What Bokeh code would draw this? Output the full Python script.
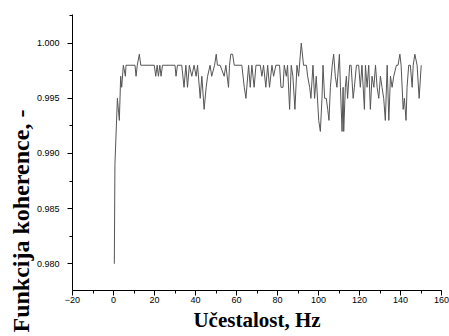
from bokeh.plotting import figure
from bokeh.models import Range1d, SingleIntervalTicker, PrintfTickFormatter, Title
from bokeh.embed import file_html
from bokeh.resources import INLINE

freq = [0.4, 0.7, 1.9, 2.85, 3.5, 4.0, 4.8, 5.8, 6.1, 10.5, 11.0, 11.6, 12.6, 13.3,
        19.9, 20.6, 21.3, 21.9, 22.6, 23.2, 23.9, 30.0, 30.5, 31.2, 33.3, 34.4,
        35.3, 36.1, 37.0, 38.2, 39.3, 40.3, 41.0, 42.3, 43.1, 44.2, 45.2, 45.9,
        47.1, 47.9, 49.3, 50.1, 50.7, 52.0, 54.0, 54.8, 56.1, 56.6, 57.2, 58.1,
        58.9, 62.6, 63.8, 64.6, 65.9, 66.7, 67.5, 68.6, 69.5, 71.6, 72.4, 73.2,
        74.3, 75.2, 76.1, 77.3, 78.1, 79.2, 81.0, 81.7, 82.7, 83.3, 84.3, 84.9,
        85.9, 86.7, 87.5, 88.5, 89.5, 90.3, 91.6, 92.7, 94.1, 94.7, 95.7, 96.3,
        97.3, 98.1, 98.9, 100.1, 100.9, 101.7, 102.2, 103.0, 103.8, 104.5, 105.1,
        105.8, 106.7, 107.4, 108.2, 109.0, 110.2, 110.7, 111.5, 112.0, 112.3,
        113.1, 113.6, 114.2, 115.2, 115.9, 116.9, 117.5, 118.5, 119.6, 120.4,
        121.2, 122.4, 122.9, 123.7, 124.5, 125.3, 126.1, 127.0, 127.8, 128.6,
        129.4, 130.2, 131.0, 131.8, 132.6, 133.5, 134.3, 135.1, 135.9, 136.7,
        138.0, 138.8, 139.7, 140.3, 141.3, 141.9, 142.7, 143.2, 144.0, 144.8,
        145.7, 146.2, 147.0, 148.1, 149.1, 150.1]

coherence = [0.980, 0.989, 0.995, 0.993, 0.997, 0.996, 0.998, 0.997, 0.998, 0.998, 0.997, 0.998, 0.999, 0.998,
             0.998, 0.997, 0.998, 0.997, 0.998, 0.997, 0.998, 0.998, 0.997, 0.998, 0.998, 0.996,
             0.998, 0.996, 0.998, 0.997, 0.998, 0.997, 0.998, 0.995, 0.997, 0.994, 0.996, 0.997,
             0.998, 0.997, 0.998, 0.999, 0.998, 0.998, 0.997, 0.998, 0.996, 0.998, 0.999, 0.999,
             0.998, 0.998, 0.996, 0.995, 0.998, 0.996, 0.998, 0.996, 0.998, 0.998, 0.997, 0.998,
             0.996, 0.998, 0.996, 0.998, 0.997, 0.998, 0.998, 0.996, 0.996, 0.998, 0.997, 0.998,
             0.994, 0.998, 0.997, 0.994, 0.998, 0.997, 1.000, 0.998, 0.998, 0.997, 0.996, 0.995,
             0.998, 0.995, 0.997, 0.993, 0.992, 0.995, 0.998, 0.995, 0.995, 0.994, 0.993,
             0.996, 0.998, 0.999, 0.997, 0.996, 0.999, 0.996, 0.992, 0.996, 0.992,
             0.996, 0.997, 0.995, 0.998, 0.998, 0.995, 0.996, 0.998, 0.998, 0.996,
             0.998, 0.994, 0.998, 0.996, 0.998, 0.994, 0.997, 0.996, 0.998, 0.996,
             0.995, 0.997, 0.996, 0.995, 0.993, 0.998, 0.993, 0.997, 0.996, 0.997,
             0.998, 0.998, 0.999, 0.998, 0.994, 0.995, 0.993, 0.996, 0.998, 0.998,
             0.996, 0.998, 0.999, 0.998, 0.995, 0.998]

x_label = "Učestalost, Hz"
y_label = "Funkcija koherence, -"

p = figure(width=449, height=336, output_backend="svg", toolbar_location=None,
           x_range=Range1d(-20, 160), y_range=Range1d(0.97758, 1.0026),
           min_border_left=72, min_border_right=8, min_border_top=14, min_border_bottom=46)
p.outline_line_color = None
p.xgrid.visible = False
p.ygrid.visible = False

p.line(freq, coherence, line_color="#555555", line_width=1)

p.xaxis.ticker = SingleIntervalTicker(interval=20, num_minor_ticks=2)
p.yaxis.ticker = SingleIntervalTicker(interval=0.005, num_minor_ticks=2)
p.yaxis.formatter = PrintfTickFormatter(format="%.3f")

for ax in (p.xaxis[0], p.yaxis[0]):
    ax.axis_line_color = "black"
    ax.major_tick_line_color = "black"
    ax.minor_tick_line_color = "black"
    ax.major_tick_in = 0
    ax.minor_tick_in = 0
    ax.major_tick_out = 5
    ax.minor_tick_out = 3
    ax.major_label_text_font = "Liberation Sans"
    ax.major_label_text_font_size = "9px"
    ax.major_label_text_color = "black"

p.yaxis.major_label_standoff = 8
p.xaxis.major_label_standoff = 1

p.xaxis.axis_label = x_label
p.xaxis.axis_label_text_font = "Liberation Serif"
p.xaxis.axis_label_text_font_style = "bold"
p.xaxis.axis_label_text_font_size = "21px"
p.xaxis.axis_label_text_color = "black"
p.xaxis.axis_label_standoff = 2

ytitle = Title(text=y_label, align="left", offset=-42, standoff=0,
               text_font="Liberation Serif", text_font_style="bold",
               text_font_size="24px", text_color="black")
p.add_layout(ytitle, "left")

open("out.html", "w").write(file_html(p, INLINE))
